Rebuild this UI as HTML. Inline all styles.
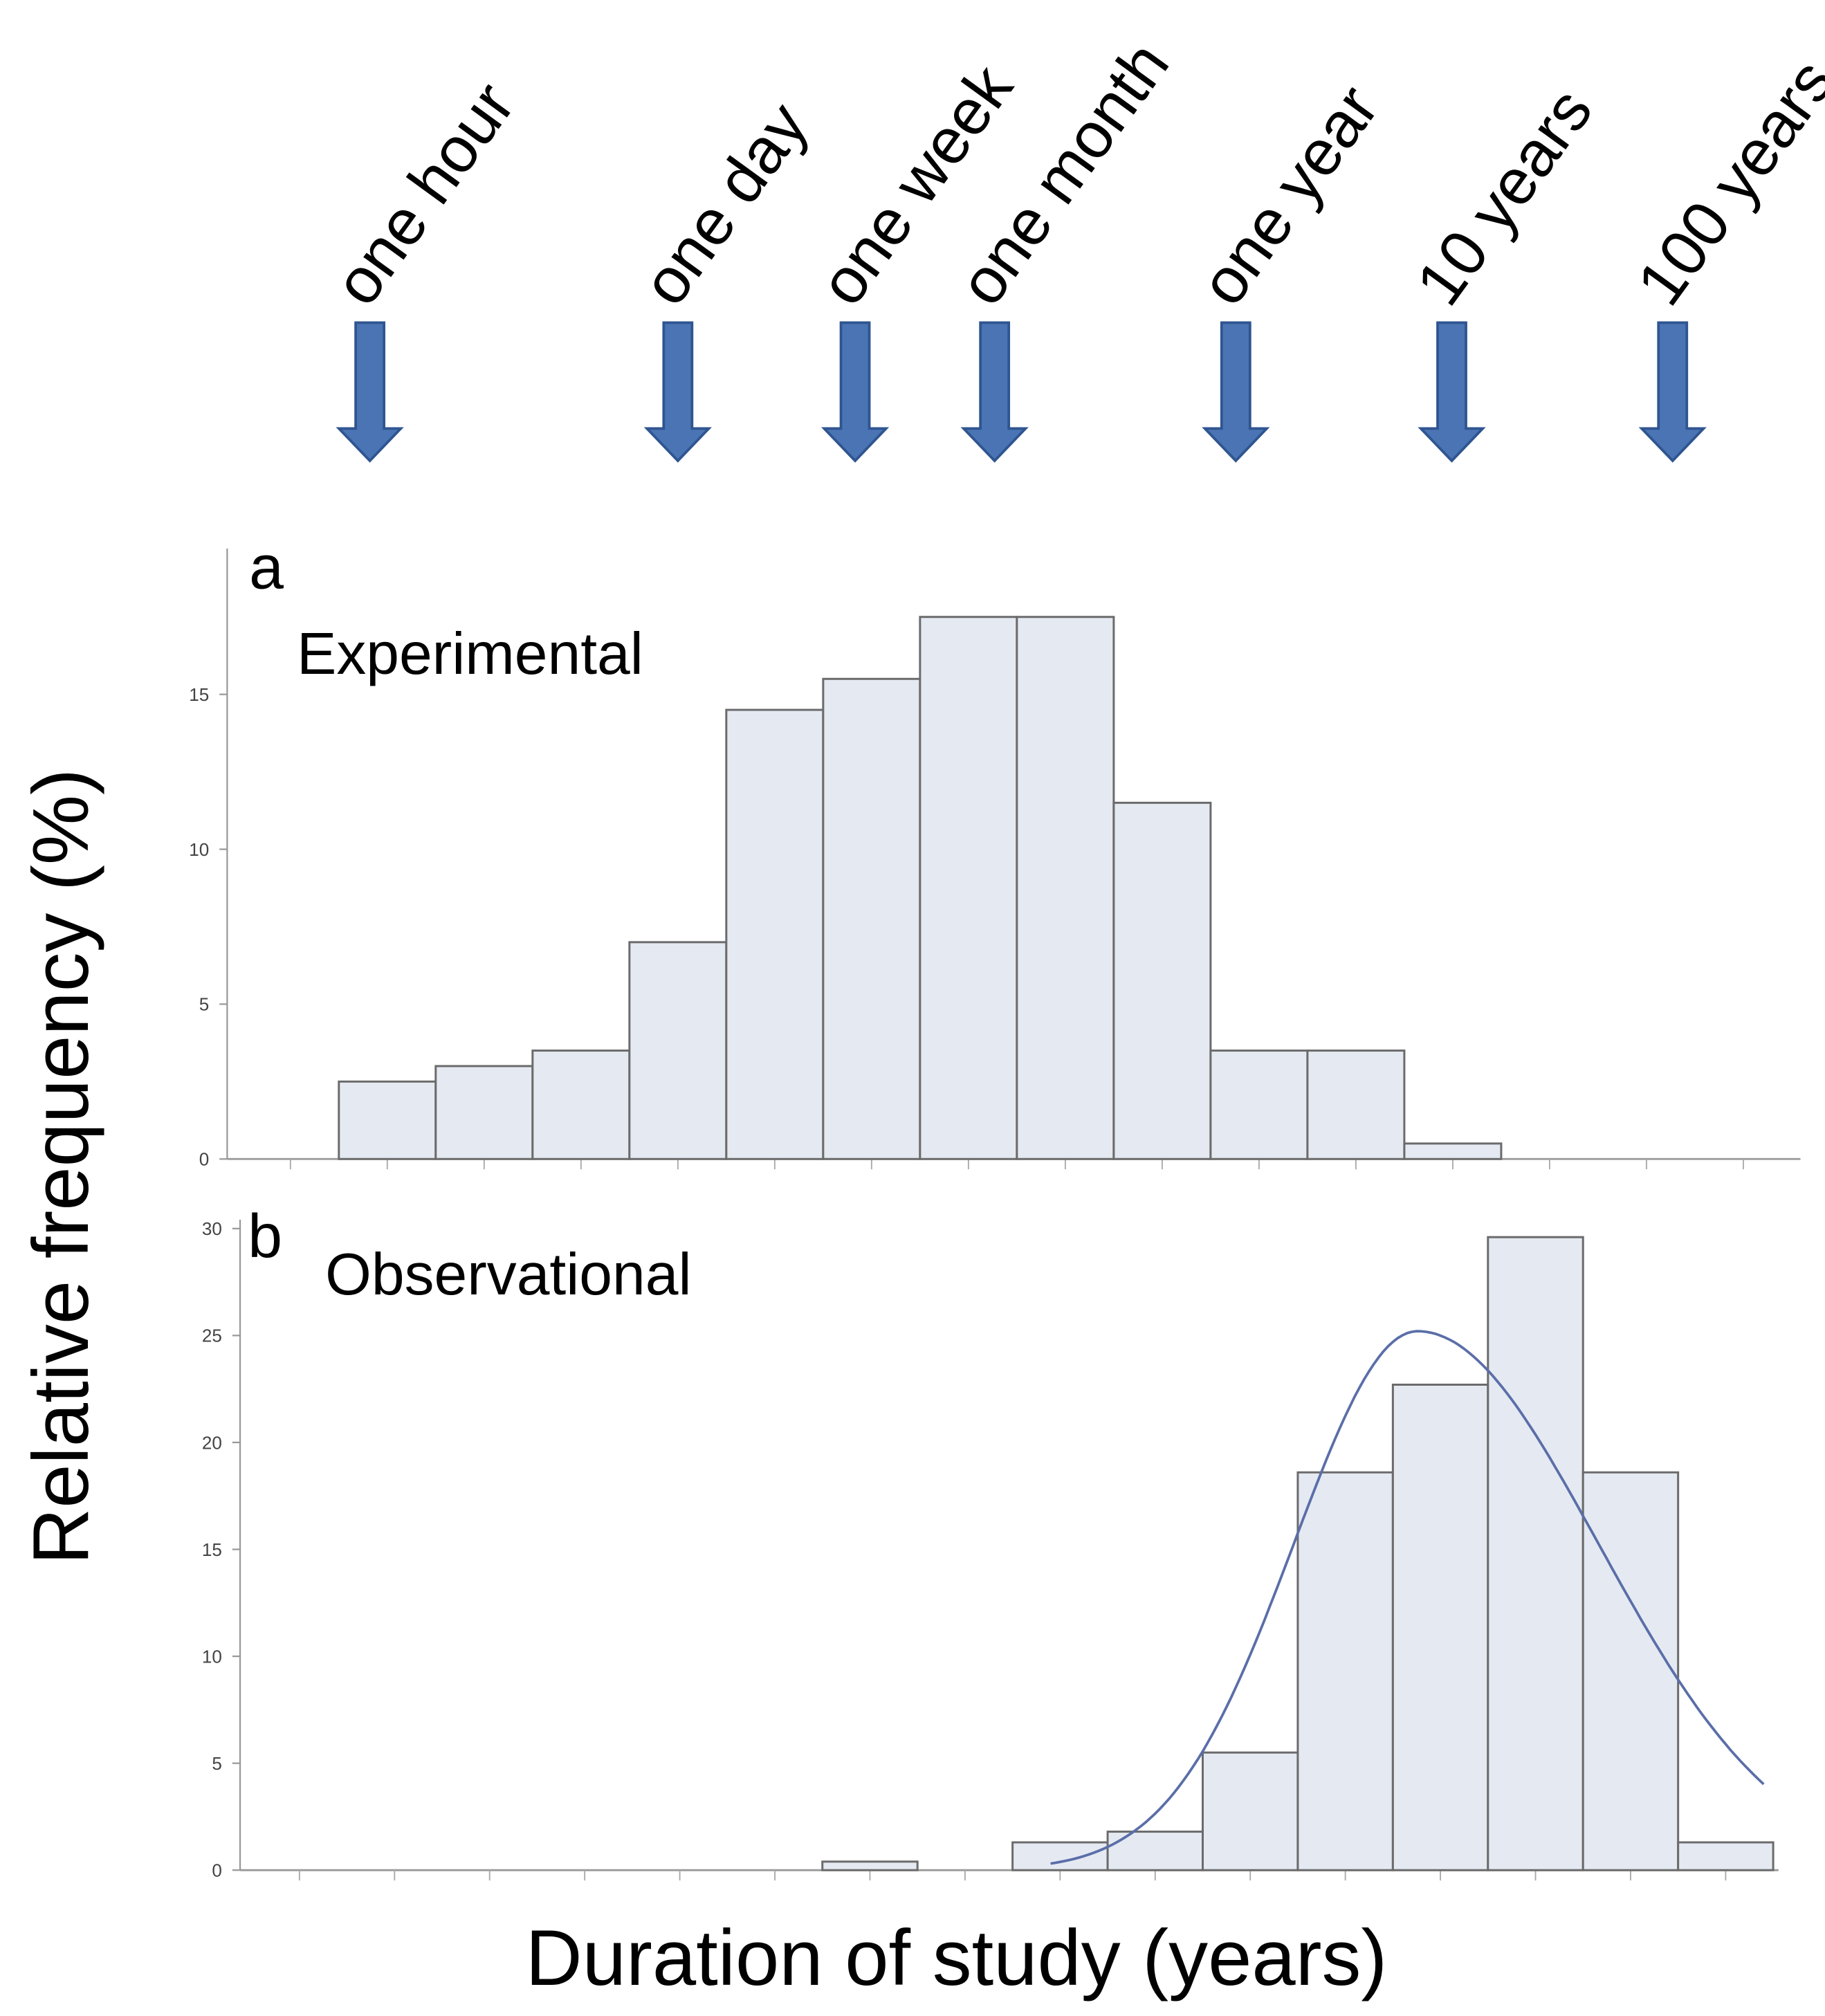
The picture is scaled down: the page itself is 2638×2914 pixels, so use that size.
<!DOCTYPE html>
<html><head><meta charset="utf-8"><style>
html,body{margin:0;padding:0;background:#fff;}
svg{display:block;font-family:"Liberation Sans",sans-serif;}
</style></head><body>
<svg id="chart" width="2638" height="2914" viewBox="0 0 1414 1562" xmlns="http://www.w3.org/2000/svg">
<g id="arrows"></g>
<g id="panelA"></g>
<g id="panelB"></g>
<text transform="translate(68,904) rotate(-90)" text-anchor="middle" font-size="61">Relative frequency (%)</text>
<text x="741" y="1538" text-anchor="middle" font-size="61">Duration of study (years)</text>
<text x="193" y="456" font-size="48">a</text>
<text x="230" y="522" font-size="46">Experimental</text>
<text x="192" y="974" font-size="48">b</text>
<text x="252" y="1003" font-size="46">Observational</text>
</svg>
<script>
const arrowLabels = ["one hour","one day","one week","one month","one year","10 years","100 years"];
const arrowBins = [0.82, 4.0, 5.83, 7.27, 9.76, 11.99, 14.27];
const aValues = [0,2.5,3,3.5,7,14.5,15.5,17.5,17.5,11.5,3.5,3.5,0.5,0,0,0];
const aTicks = [0,5,10,15];
const bValues = [0,0,0,0,0,0,0.4,0,1.3,1.8,5.5,18.6,22.7,29.6,18.6,1.3];
const bTicks = [0,5,10,15,20,25,30];
const curvePeak = [25.2];
const curveMean = [11.76];
const curveSigma = [1.3,1.9];
const curveRange = [7.9,15.45];

const NS="http://www.w3.org/2000/svg";
function mk(tag,attrs,parent){const e=document.createElementNS(NS,tag);for(const k in attrs)e.setAttribute(k,attrs[k]);parent.appendChild(e);return e;}

const ax=i=>225+75.05*i, ay=v=>898-24*v;
const bx=i=>232+73.67*i, by=v=>1449-16.57*v;

function panel(g,values,ticks,xs,ys,axisX,xEnd,yTop,bw,prefix){
  const axis=mk('line',{x1:axisX,y1:yTop,x2:axisX,y2:ys(0),stroke:'#999','stroke-width':1.2},g);
  
  
  const base=mk('line',{x1:axisX,y1:ys(0),x2:xEnd,y2:ys(0),stroke:'#999','stroke-width':1.5},g);
  
  
  ticks.forEach(t=>{
    mk('line',{x1:axisX-6,y1:ys(t),x2:axisX,y2:ys(t),stroke:'#999','stroke-width':1.2},g);
    const tx=mk('text',{x:axisX-14,y:ys(t)+5,'text-anchor':'end','font-size':14,fill:'#444'},g);
    tx.textContent=t;
    
    
  });
  values.forEach((v,i)=>{
    mk('line',{x1:xs(i),y1:ys(0),x2:xs(i),y2:ys(0)+8,stroke:'#aaa','stroke-width':1},g);
    if(v>0){
      const r=mk('rect',{x:xs(i)-bw/2,y:ys(v),width:bw,height:ys(0)-ys(v),fill:'#e5e9f2',stroke:'#6b6b6b','stroke-width':1.6},g);
      
      
    }
  });
}
panel(document.getElementById('panelA'),aValues,aTicks,ax,ay,176,1395,425,75.05,'panel-a');
panel(document.getElementById('panelB'),bValues,bTicks,bx,by,186,1378,945,73.67,'panel-b');

let d='';
for(let s=curveRange[0];s<=curveRange[1];s+=0.05){
  const sg=s<curveMean[0]?curveSigma[0]:curveSigma[1];
  const v=curvePeak[0]*Math.exp(-0.5*Math.pow((s-curveMean[0])/sg,2));
  d+=(d?'L':'M')+bx(s).toFixed(1)+','+by(v).toFixed(1);
}
const c=mk('path',{d:d,fill:'none',stroke:'#5a6ea8','stroke-width':2},document.getElementById('panelB'));



const ag=document.getElementById('arrows');
arrowLabels.forEach((lab,i)=>{
  const x=ax(arrowBins[i]);
  const p=mk('path',{d:`M${x-11},250 L${x+11},250 L${x+11},332 L${x+24},332 L${x},357 L${x-24},332 L${x-11},332 Z`,fill:'#4a74b4',stroke:'#2f5590','stroke-width':2},ag);
  
  
  const t=mk('text',{transform:`translate(${x-2},240) rotate(-54)`,'font-size':50,fill:'#000'},ag);
  t.textContent=lab;
  
  
});
</script>
</body></html>
